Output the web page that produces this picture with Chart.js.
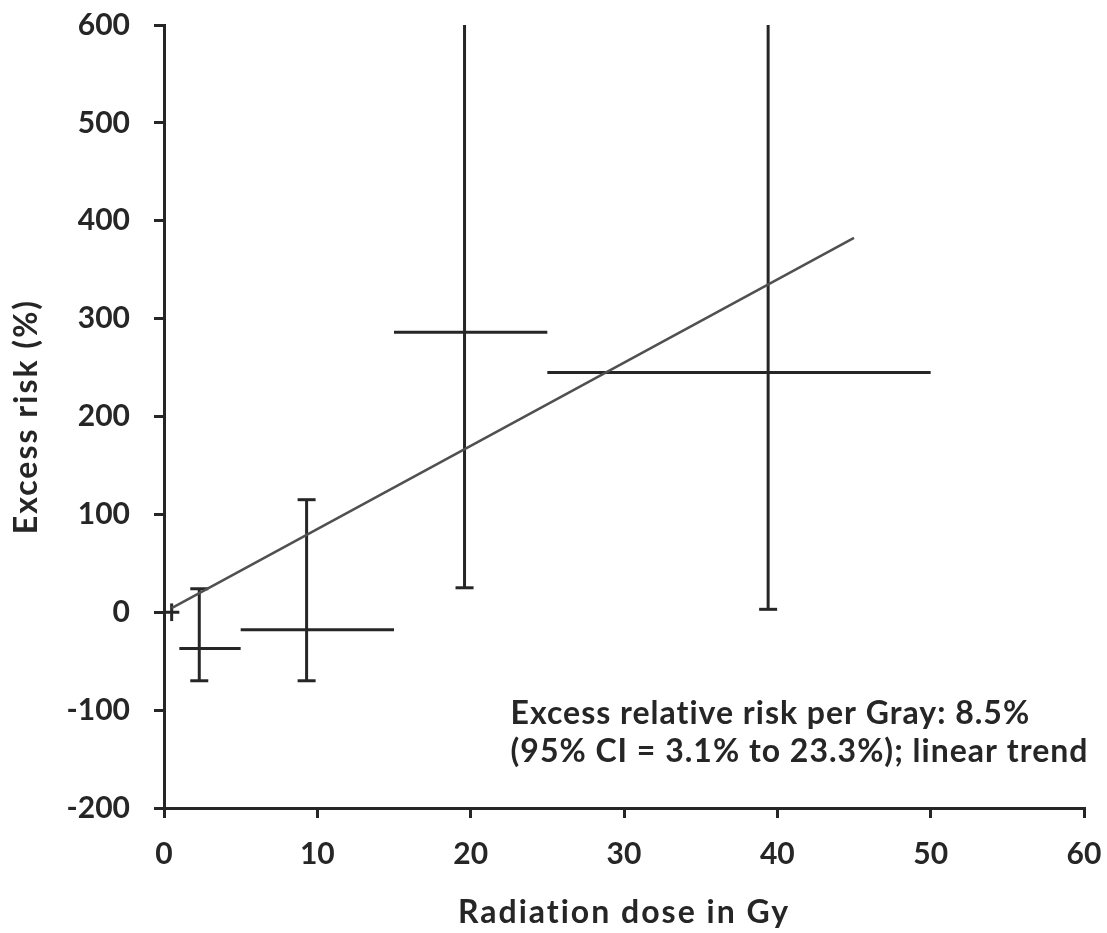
<!DOCTYPE html>
<html>
<head>
<meta charset="utf-8">
<script src="https://cdn.jsdelivr.net/npm/chart.js@4/dist/chart.umd.min.js"></script>
<style>
  html, body { margin: 0; padding: 0; background: #fff; }
  #wrap { width: 1107px; height: 933px; }
</style>
</head>
<body>
<div id="wrap"><canvas id="chart" width="1107" height="933"></canvas></div>
<script>
// dose groups (Gy): midpoint and range
const doses = [0.5, 2.3, 9.3, 19.6, 39.4];
const doseLow = [0, 1, 5, 15, 25];
const doseHigh = [1, 5, 15, 25, 50];
// excess risk (%) and 95% CI
const risks = [0, -37, -18, 286, 245];
const ciLow = [-9, -70, -70, 25, 3];
const ciHigh = [9, 24, 115, 600, 600];
const hasCaps = [false, true, true, true, true];

// fitted linear trend (8.5% per Gy)
const trendX = [0.5, 45];
const trendY = [4.25, 382.5];

const xTicks = [0, 10, 20, 30, 40, 50, 60];
const yTicks = [-200, -100, 0, 100, 200, 300, 400, 500, 600];

const ink = '#262626';
const font = 'Lato';

const datasets = [];
datasets.push({
    data: trendX.map((x, i) => ({ x: x, y: trendY[i] })),
    showLine: true,
    borderColor: '#505050',
    borderWidth: 2.5,
    pointRadius: 0
});
doses.forEach((d, i) => {
    // horizontal range of the dose group
    datasets.push({
        data: [{ x: doseLow[i], y: risks[i] }, { x: doseHigh[i], y: risks[i] }],
        showLine: true,
        borderColor: ink,
        borderWidth: 3,
        pointRadius: 0
    });
    // vertical confidence interval, capped ends
    const topCap = hasCaps[i] && ciHigh[i] < 600;
    datasets.push({
        data: [{ x: d, y: ciLow[i] }, { x: d, y: ciHigh[i] }],
        showLine: true,
        borderColor: ink,
        borderWidth: 3,
        pointStyle: 'line',
        pointRadius: [hasCaps[i] ? 9 : 0, topCap ? 9 : 0],
        pointBorderColor: ink,
        pointBorderWidth: 3
    });
});

// axis titles and the note, drawn with a bit of letter spacing
const textPlugin = {
    id: 'texts',
    afterDraw(chart) {
        const ctx = chart.ctx;
        const area = chart.chartArea;
        const xs = chart.scales.x, ys = chart.scales.y;
        ctx.save();
        ctx.fillStyle = ink;
        ctx.textBaseline = 'middle';

        ctx.font = 'bold 32px ' + font;
        ctx.letterSpacing = '2px';
        ctx.textAlign = 'center';
        ctx.fillText('Radiation dose in Gy', (area.left + area.right) / 2, 913);
        ctx.save();
        ctx.translate(27, (area.top + area.bottom) / 2);
        ctx.rotate(-Math.PI / 2);
        ctx.fillText('Excess risk (%)', 0, 0);
        ctx.restore();

        ctx.letterSpacing = '1px';
        ctx.textAlign = 'left';
        const left = xs.getPixelForValue(22.6);
        ctx.fillText('Excess relative risk per Gray: 8.5%', left, ys.getPixelForValue(-104));
        ctx.fillText('(95% CI = 3.1% to 23.3%); linear trend', left, ys.getPixelForValue(-142));
        ctx.restore();
    }
};

new Chart(document.getElementById('chart'), {
    type: 'scatter',
    data: { datasets: datasets },
    options: {
        responsive: false,
        animation: false,
        layout: { padding: { top: 25, right: 23, left: 0, bottom: 0 } },
        plugins: { legend: { display: false }, tooltip: { enabled: false } },
        scales: {
            x: {
                type: 'linear',
                min: 0,
                max: 60,
                afterBuildTicks: (s) => { s.ticks = xTicks.map(v => ({ value: v })); },
                afterFit: (s) => {
                    s.height = 125;
                    s.paddingLeft = 0;
                    s.paddingRight = 0;
                },
                grid: { drawOnChartArea: false, tickLength: 10, color: ink, lineWidth: 3 },
                border: { color: ink, width: 3 },
                ticks: { color: ink, padding: 18, font: { family: font, size: 30, weight: 'bold' } }
            },
            y: {
                type: 'linear',
                min: -200,
                max: 600,
                afterBuildTicks: (s) => { s.ticks = yTicks.map(v => ({ value: v })); },
                afterFit: (s) => {
                    s.width = 164;
                    s.paddingTop = 0;
                    s.paddingBottom = 0;
                },
                grid: { drawOnChartArea: false, tickLength: 10, color: ink, lineWidth: 3 },
                border: { color: ink, width: 3 },
                ticks: { color: ink, padding: 24, font: { family: font, size: 30, weight: 'bold' } }
            }
        }
    },
    plugins: [textPlugin]
});
</script>
</body>
</html>
